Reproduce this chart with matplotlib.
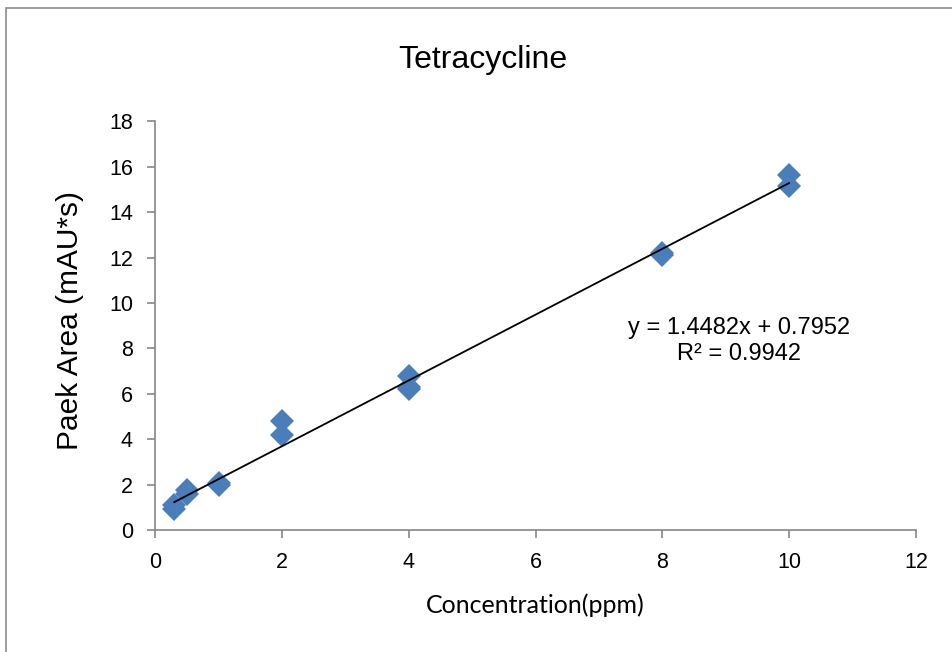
import numpy as np
import matplotlib.pyplot as plt
from matplotlib.patches import Rectangle

# calibration standards (ppm) and measured peak areas
conc = [0.3, 0.3, 0.5, 0.5, 1, 1, 2, 2, 4, 4, 4, 8, 8, 10, 10]
area = [0.95, 1.1, 1.6, 1.75, 2.0, 2.08, 4.2, 4.8, 6.2, 6.3, 6.8, 12.1, 12.2, 15.15, 15.65]

slope = 1.4482
intercept = 0.7952
r2 = 0.9942

fig = plt.figure(figsize=(9.52, 6.52), dpi=100)
fig.patches.append(Rectangle((0.006, -0.05), 1.1, 1.038, transform=fig.transFigure,
                             fill=False, edgecolor="#8c8c8c", linewidth=1.2))
ax = fig.add_axes([0.163, 0.187, 0.799, 0.627])

ax.plot(conc, area, "D", color="#4a7ebb", markersize=12.5, markeredgewidth=0)
xl = np.array([min(conc), max(conc)])
ax.plot(xl, slope * xl + intercept, color="black", linewidth=1.3)

ax.set_xlim(0, 12)
ax.set_ylim(0, 18)
ax.set_xticks(range(0, 13, 2))
ax.set_yticks(range(0, 19, 2))
for s in ["top", "right"]:
    ax.spines[s].set_visible(False)
for s in ["left", "bottom"]:
    ax.spines[s].set_color("#868686")
    ax.spines[s].set_linewidth(1.2)
ax.tick_params(colors="#868686", labelcolor="black", length=6, width=1.2,
               labelsize=15.5)
ax.tick_params(axis="x", pad=10)
ax.tick_params(axis="y", pad=10)
for lab in ax.get_xticklabels() + ax.get_yticklabels():
    lab.set_fontfamily("Liberation Sans")

fig.text(483 / 952, 1 - 60 / 652, "Tetracycline", fontsize=23, family="Liberation Sans",
         ha="center", va="center")
fig.text(535 / 952, 1 - 605 / 652, "Concentration(ppm)", fontsize=18, family="Lato",
         ha="center", va="center")
fig.text(70 / 952, 1 - 320 / 652, "Paek Area (mAU*s)", fontsize=21.5, family="Liberation Sans",
         rotation=90, ha="center", va="center")

ax.text(9.21, 8.33, f"y = {slope}x + {intercept}\nR² = {r2}", ha="center", va="center",
        fontsize=17, family="Liberation Sans", linespacing=1.25)

fig.savefig("out.png", dpi=100)
